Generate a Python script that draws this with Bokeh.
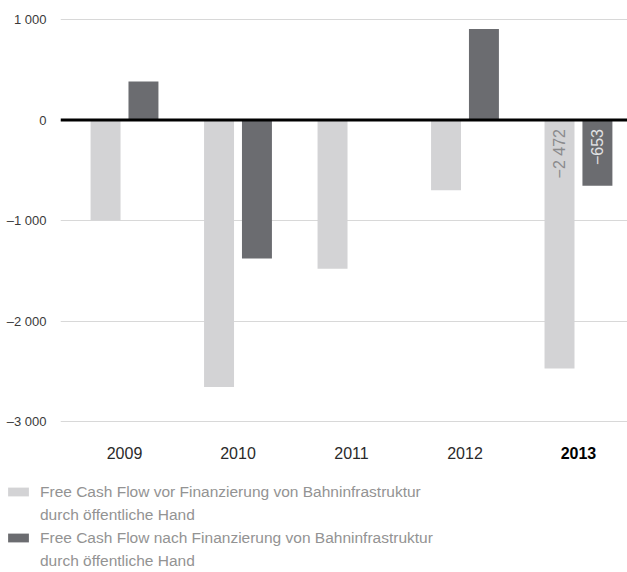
import math
from bokeh.plotting import figure
from bokeh.layouts import column, row
from bokeh.models import ColumnDataSource, Span, FixedTicker, Legend, LegendItem, Range1d
from bokeh.core.properties import value
from bokeh.embed import file_html
from bokeh.resources import INLINE

years = ["2009", "2010", "2011", "2012", "2013"]
fcf_before = [-1000, -2657, -1480, -700, -2472]
fcf_after = [383, -1378, 0, 905, -653]
y_ticks = [1000, 0, -1000, -2000, -3000]
y_tick_labels = ["1 000", "0", "–1 000", "–2 000", "–3 000"]
legend_lines = [
    ("Free Cash Flow vor Finanzierung von Bahninfrastruktur", "durch öffentliche Hand"),
    ("Free Cash Flow nach Finanzierung von Bahninfrastruktur", "durch öffentliche Hand"),
]
labelled_year = "2013"

FONT = "Liberation Sans"
LIGHT = "#d3d3d5"
DARK = "#6b6c70"

idx = list(range(len(years)))
dodge = 0.167
bw = 0.264

p = figure(width=627, height=480, output_backend="svg", toolbar_location=None,
           x_range=Range1d(-0.564, 4.432), y_range=Range1d(-3587, 1070),
           min_border_left=60, min_border_right=0, min_border_top=12, min_border_bottom=0)
p.outline_line_color = None
p.xaxis.visible = False
p.xgrid.visible = False

p.yaxis.ticker = FixedTicker(ticks=y_ticks)
p.yaxis.major_label_overrides = {t: l for t, l in zip(y_ticks, y_tick_labels)}
p.yaxis.axis_line_color = None
p.yaxis.major_tick_line_color = None
p.yaxis.minor_tick_line_color = None
p.yaxis.major_label_standoff = 8
p.yaxis.major_label_text_font = FONT
p.yaxis.major_label_text_font_size = "13px"
p.yaxis.major_label_text_color = "#3a3a3a"
p.ygrid.ticker = FixedTicker(ticks=y_ticks)
p.ygrid.grid_line_color = "#d8d8d8"
p.ygrid.grid_line_width = 1

src = ColumnDataSource(dict(
    x1=[i - dodge for i in idx], x2=[i + dodge for i in idx],
    a=fcf_before, b=fcf_after))
p.vbar(x="x1", top="a", bottom=0, width=bw, source=src, fill_color=LIGHT, line_color=None)
p.vbar(x="x2", top="b", bottom=0, width=bw, source=src, fill_color=DARK, line_color=None)

p.add_layout(Span(location=0, dimension="width", line_color="black", line_width=3))

# year labels
weights = ["bold" if y == labelled_year else "normal" for y in years]
colors = ["#000000" if y == labelled_year else "#2a2a2a" for y in years]
ysrc = ColumnDataSource(dict(x=idx, y=[y_ticks[-1]] * len(years), t=years, w=weights, c=colors))
p.text(x="x", y="y", text="t", source=ysrc, text_font=value(FONT), text_font_size="16px",
       text_font_style="w", text_color="c", text_align="center", text_baseline="middle",
       y_offset=31)

# value labels for the last year
k = years.index(labelled_year)
def fmt(v):
    s = f"{abs(v):,}".replace(",", " ")
    return ("−" if v < 0 else "") + s
lsrc = ColumnDataSource(dict(
    x=[k - dodge, k + dodge], y=[0, 0],
    t=[fmt(fcf_before[k]), fmt(fcf_after[k])],
    c=["#8a8a8c", "#e2e2e4"]))
p.text(x="x", y="y", text="t", source=lsrc, angle=math.pi / 2, text_font=value(FONT),
       text_font_size="16px", text_color="c", text_align="right", text_baseline="middle",
       y_offset=9)

# legend figure
lf = figure(width=627, height=92, output_backend="svg", toolbar_location=None,
            x_range=Range1d(0, 1), y_range=Range1d(100000, 100001),
            min_border_left=0, min_border_right=0, min_border_top=0, min_border_bottom=0)
lf.axis.visible = False
lf.grid.visible = False
lf.outline_line_color = None
g1 = lf.vbar(x="x1", top="a", bottom=0, width=bw, source=src, fill_color=LIGHT, line_color=None)
g2 = lf.vbar(x="x2", top="b", bottom=0, width=bw, source=src, fill_color=DARK, line_color=None)
blank = lf.vbar(x="x1", top="a", bottom=0, width=bw, source=src, fill_alpha=0, line_alpha=0)

items = [
    LegendItem(label=legend_lines[0][0], renderers=[g1]),
    LegendItem(label=legend_lines[0][1], renderers=[blank]),
    LegendItem(label=legend_lines[1][0], renderers=[g2]),
    LegendItem(label=legend_lines[1][1], renderers=[blank]),
]
legend = Legend(items=items)
legend.glyph_width = 26
legend.glyph_height = 11
legend.label_height = 23
legend.label_text_font = FONT
legend.label_text_font_size = "15.5px"
legend.label_text_color = "#939393"
legend.label_text_baseline = "middle"
legend.label_standoff = 9
legend.spacing = 0
legend.padding = 0
legend.margin = 0
legend.border_line_alpha = 0
legend.background_fill_alpha = 0
legend.location = (5, 0)
lf.add_layout(legend)

layout = column(p, row(lf), spacing=0)
open("out.html", "w").write(file_html(layout, INLINE))
